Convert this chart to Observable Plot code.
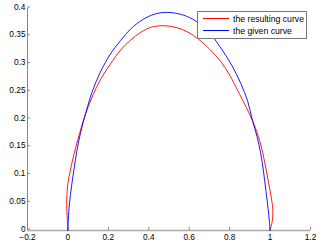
<!DOCTYPE html>
<html><head><meta charset="utf-8">
<script src="https://cdn.jsdelivr.net/npm/d3@7"></script>
<script src="https://cdn.jsdelivr.net/npm/@observablehq/plot@0.6"></script>
<style>
body{margin:0;background:#fff;}
#wrap{position:relative;width:332px;height:245px;font-family:"Liberation Sans",Arial,sans-serif;}
#legend{position:absolute;left:197px;top:11px;width:108px;height:26px;border:1px solid #777;background:#fff;font-size:8.7px;color:#000;}
#legend .row{position:absolute;left:5px;height:12px;line-height:12px;white-space:nowrap;}
#legend .sw{display:inline-block;width:26px;height:0;border-top:1px solid;vertical-align:middle;margin-right:4px;position:relative;top:-1px;}
</style></head>
<body><div id="wrap"></div>
<script>
const seriesNames = ["the resulting curve", "the given curve"];
const seriesColors = ["#ff0000", "#0000ff"];
// resulting curve (red), points in drawing order
const redX = [0, -0.003, -0.006, -0.005, 0, 0.01, 0.025, 0.05, 0.087, 0.125, 0.161, 0.21, 0.26, 0.31, 0.36, 0.41, 0.47, 0.52, 0.56, 0.6, 0.645, 0.7, 0.755, 0.8, 0.85, 0.913, 0.95, 0.975, 0.993, 1.008, 1.014, 1.01, 1.003, 1.0];
const redY = [0, 0.02, 0.045, 0.065, 0.085, 0.105, 0.13, 0.165, 0.21, 0.245, 0.272, 0.3, 0.325, 0.343, 0.357, 0.366, 0.369, 0.367, 0.363, 0.356, 0.345, 0.327, 0.305, 0.28, 0.245, 0.198, 0.16, 0.12, 0.085, 0.055, 0.035, 0.015, 0.005, 0];
// given curve (blue)
const blueX = [0, 0.002, 0.008, 0.018, 0.03, 0.045, 0.065, 0.087, 0.12, 0.16, 0.21, 0.26, 0.31, 0.37, 0.43, 0.48, 0.54, 0.6, 0.66, 0.71, 0.76, 0.81, 0.855, 0.89, 0.913, 0.935, 0.953, 0.968, 0.98, 0.99, 0.997, 1.0];
const blueY = [0, 0.02, 0.05, 0.08, 0.11, 0.145, 0.18, 0.21, 0.25, 0.285, 0.318, 0.342, 0.363, 0.38, 0.39, 0.393, 0.391, 0.384, 0.37, 0.352, 0.327, 0.298, 0.265, 0.232, 0.198, 0.17, 0.14, 0.105, 0.07, 0.04, 0.015, 0];
const xTicks = [-0.2, 0, 0.2, 0.4, 0.6, 0.8, 1, 1.2];
const yTicks = [0, 0.05, 0.1, 0.15, 0.2, 0.25, 0.3, 0.35, 0.4];

const red = redX.map((x, i) => ({x, y: redY[i]}));
const blue = blueX.map((x, i) => ({x, y: blueY[i]}));

const fmt = d => String(d).replace("-", "\u2212");
const chart = Plot.plot({
  width: 332, height: 245,
  marginLeft: 27, marginRight: 22, marginTop: 8, marginBottom: 15,
  style: {fontFamily: "Liberation Sans, Arial, sans-serif", fontSize: "8.3px", color: "#000", background: "#fff"},
  x: {domain: [-0.2, 1.2]},
  y: {domain: [0, 0.4]},
  marks: [
    Plot.axisX({ticks: xTicks, tickSize: -3, tickPadding: 7, tickFormat: fmt, stroke: "#888", label: null, fill: "#000"}),
    Plot.axisY({ticks: yTicks, tickSize: -3, tickPadding: 5, tickFormat: fmt, stroke: "#888", label: null, fill: "#000", dy: -1.5}),
    Plot.ruleY([0], {stroke: "#aaa", strokeWidth: 1.5}),
    Plot.ruleX([-0.2], {stroke: "#888"}),
    Plot.line(red, {x: "x", y: "y", stroke: seriesColors[0], strokeWidth: 0.9, curve: "catmull-rom"}),
    Plot.line(blue, {x: "x", y: "y", stroke: seriesColors[1], strokeWidth: 0.9, curve: "catmull-rom"})
  ]
});
const wrap = document.getElementById("wrap");
wrap.appendChild(chart);
const lg = document.createElement("div");
lg.id = "legend";
seriesNames.forEach((n, i) => {
  const r = document.createElement("div");
  r.className = "row";
  r.style.top = (i * 12 + 1) + "px";
  r.innerHTML = `<span class="sw" style="border-color:${seriesColors[i]}"></span>${n}`;
  lg.appendChild(r);
});
wrap.appendChild(lg);
</script></body></html>
